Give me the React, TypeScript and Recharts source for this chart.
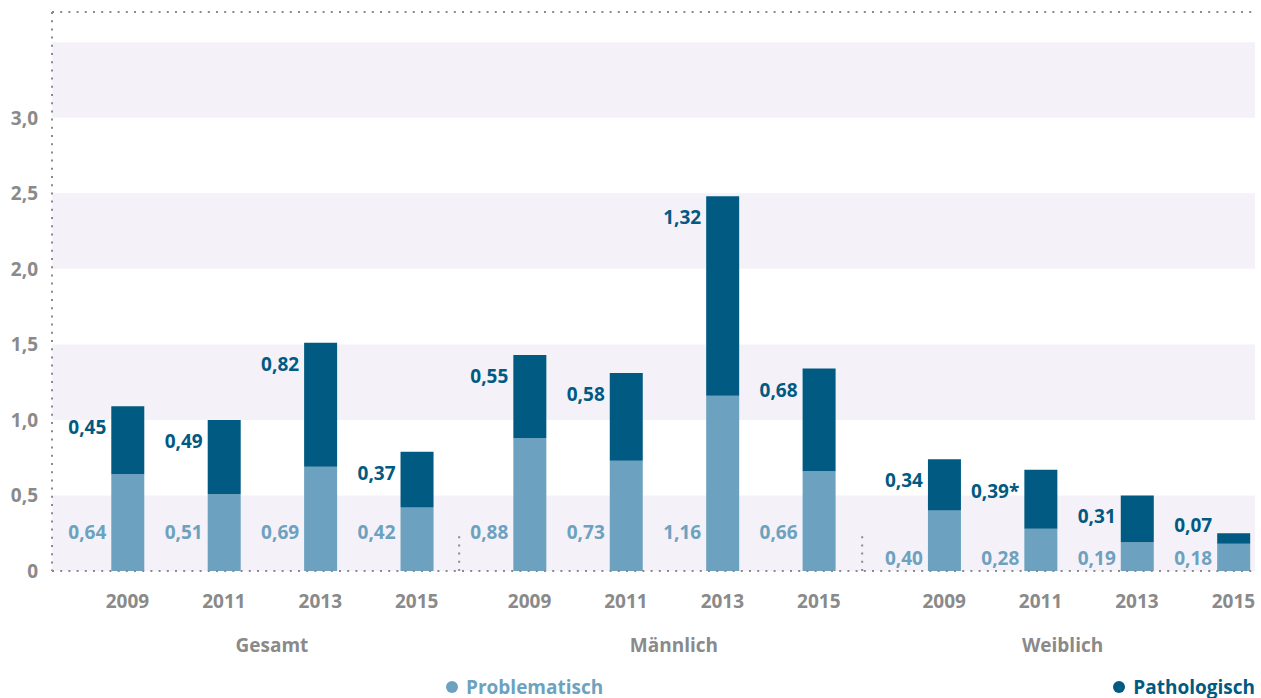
import React from 'react';
import { BarChart, Bar, XAxis, YAxis, ReferenceArea, ReferenceLine, LabelList } from 'recharts';

const groups = ['Gesamt', 'Männlich', 'Weiblich'];
const years = ['2009', '2011', '2013', '2015'];
const problematisch = [0.64, 0.51, 0.69, 0.42, 0.88, 0.73, 1.16, 0.66, 0.4, 0.28, 0.19, 0.18];
const pathologisch = [0.45, 0.49, 0.82, 0.37, 0.55, 0.58, 1.32, 0.68, 0.34, 0.39, 0.31, 0.07];
const marks = ['', '', '', '', '', '', '', '', '', '*', '', ''];
const yTicks = [0, 0.5, 1, 1.5, 2, 2.5, 3];
const bands = [[0, 0.5], [1, 1.5], [2, 2.5], [3, 3.5]];

// layout only
const GROUP_START = [0, 4.17, 8.47];
const GROUP_LABEL_DX = [48, 48, 22];
const SEPARATORS = [3.44, 7.62];
const PLOT_BOTTOM = 571;

const LIGHT = '#6ca2bf';
const DARK = '#005a82';
const GREY = '#8a8a8a';
const BAND = '#f4f1f8';
const FONT = '"Open Sans", "Noto Sans", sans-serif';
const DOTS = { stroke: GREY, strokeWidth: 2, strokeDasharray: '2 6.2' };

const data = problematisch.map((p, i) => {
  const g = Math.floor(i / 4);
  return {
    pos: GROUP_START[g] + (i % 4),
    year: years[i % 4],
    group: groups[g],
    problematisch: p,
    pathologisch: pathologisch[i],
  };
});

const fmt = (v: number) => v.toFixed(2).replace('.', ',');
const fmtY = (v: number) => (v === 0 ? '0' : v.toFixed(1).replace('.', ','));

const textStyle = { fontFamily: FONT, fontSize: 19, fontWeight: 700 };

const LightLabel = (props: any) => {
  const { x, y, height, index } = props;
  const g = Math.floor(index / 4);
  const bottom = y + height;
  return (
    <text x={x - 5} y={bottom - (g === 2 ? 13 : 39)} textAnchor="end" dominantBaseline="central" fill={LIGHT} style={textStyle}>
      {fmt(problematisch[index])}
    </text>
  );
};

const DarkLabel = (props: any) => {
  const { x, y, index } = props;
  const cy = Math.min(y + 21, PLOT_BOTTOM - 46);
  return (
    <text x={x - 5} y={cy} textAnchor="end" dominantBaseline="central" fill={DARK} style={textStyle}>
      {fmt(pathologisch[index]) + marks[index]}
    </text>
  );
};

const XTick = (props: any) => {
  const { x, y, payload } = props;
  const i = data.findIndex((d) => Math.abs(d.pos - payload.value) < 1e-6);
  if (i < 0) return null;
  const g = Math.floor(i / 4);
  return (
    <g>
      <text x={x} y={y + 22} textAnchor="middle" dominantBaseline="central" fill={GREY} style={textStyle}>
        {data[i].year}
      </text>
      {i % 4 === 1 && (
        <text x={x + GROUP_LABEL_DX[g]} y={y + 66} textAnchor="middle" dominantBaseline="central" fill={GREY} style={textStyle}>
          {data[i].group}
        </text>
      )}
    </g>
  );
};

const LegendItem = ({ color, label, style }: { color: string; label: string; style: React.CSSProperties }) => (
  <div style={{ position: 'absolute', top: 676, display: 'flex', alignItems: 'center', gap: 8, ...style }}>
    <span style={{ width: 12, height: 12, borderRadius: 6, background: color, display: 'inline-block' }} />
    <span style={{ ...textStyle, color, lineHeight: '22px' }}>{label}</span>
  </div>
);

export default function App() {
  return (
    <div style={{ position: 'absolute', left: 0, top: 0, width: 1261, height: 698, background: '#fff' }}>
      <BarChart width={1261} height={698} data={data} margin={{ top: 12, right: 6, left: 0, bottom: 0 }} barSize={33}>
        {bands.map(([a, b]) => (
          <ReferenceArea key={a} y1={a} y2={b} fill={BAND} fillOpacity={1} stroke="none" ifOverflow="hidden" />
        ))}
        <XAxis
          dataKey="pos"
          type="number"
          domain={[-0.783, 11.694]}
          allowDataOverflow
          ticks={data.map((d) => d.pos)}
          interval={0}
          tick={<XTick />}
          tickLine={false}
          axisLine={DOTS}
          height={127}
        />
        <YAxis
          type="number"
          domain={[0, 3.7]}
          allowDataOverflow
          ticks={yTicks}
          tickFormatter={fmtY}
          tick={{ fill: GREY, ...textStyle }}
          tickLine={false}
          tickMargin={8}
          axisLine={DOTS}
          width={52}
        />
        <ReferenceLine y={3.7} {...DOTS} />
        {SEPARATORS.map((s) => (
          <ReferenceLine key={s} segment={[{ x: s, y: 0 }, { x: s, y: 0.25 }]} {...DOTS} />
        ))}
        <Bar dataKey="problematisch" stackId="a" fill={LIGHT} isAnimationActive={false}>
          <LabelList dataKey="problematisch" content={<LightLabel />} />
        </Bar>
        <Bar dataKey="pathologisch" stackId="a" fill={DARK} isAnimationActive={false}>
          <LabelList dataKey="pathologisch" content={<DarkLabel />} />
        </Bar>
      </BarChart>
      <LegendItem color={LIGHT} label="Problematisch" style={{ left: 446 }} />
      <LegendItem color={DARK} label="Pathologisch" style={{ right: 6 }} />
    </div>
  );
}
